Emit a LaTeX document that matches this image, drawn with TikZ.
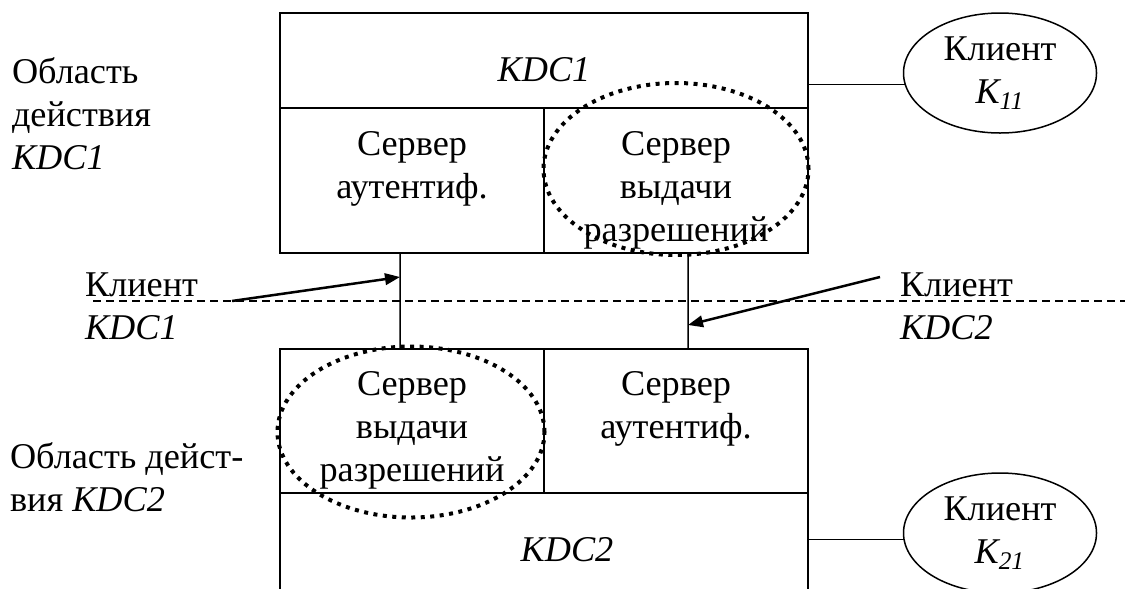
\documentclass[tikz,border=0pt]{standalone}
\usepackage{fontspec}
\setmainfont{Liberation Serif}
\usepackage{xcolor}
\usepackage{tikz}
\usetikzlibrary{shapes, arrows.meta, positioning}

\begin{document}
\begin{tikzpicture}[
		x=0.4pt, y=-0.4pt,
		every node/.style={font=\fontsize{14.5pt}{17.2pt}\selectfont, inner sep=0pt, outer sep=0pt},
		cell/.style={draw, line width=0.8pt},
		lbl/.style={align=left, anchor=north west},
		txt/.style={align=center},
		client/.style={draw, ellipse, line width=0.6pt, align=center, minimum width=77.2pt, minimum height=48pt},
		ring/.style={draw, ellipse, line width=1.6pt, dash pattern=on 1.6pt off 2.2pt},
		link/.style={line width=0.6pt},
		cut/.style={line width=0.5pt, dash pattern=on 3.2pt off 2pt},
		pointer/.style={line width=1pt, -{Triangle[length=6pt, width=4.6pt]}}
		]
		
		\useasboundingbox (0,0) rectangle (1125,588);
		\clip (0,0) rectangle (1125,588);
		
		% Realm KDC1
		\node[cell, minimum width=211.2pt, minimum height=38pt] (kdcone) at (544,60.5) {};
		\node[cell, anchor=north west, minimum width=105.6pt, minimum height=58pt] (authone) at (kdcone.south west) {};
		\node[cell, anchor=north east, minimum width=105.6pt, minimum height=58pt] (tgsone) at (kdcone.south east) {};
		
		\node[txt, below=17.6pt of kdcone.north] (kdconetext) {\textit{KDC1}};
		\node[txt, below=9.2pt of authone.north] (authonetext) {Сервер\\аутентиф.};
		\node[txt, below=9.2pt of tgsone.north] (tgsonetext) {Сервер\\выдачи\\разрешений};
		
		% Realm KDC2
		\node[cell, anchor=north west, minimum width=105.6pt, minimum height=57.6pt] (tgstwo) at (280,349) {};
		\node[cell, anchor=north west, minimum width=105.6pt, minimum height=57.6pt] (authtwo) at (tgstwo.north east) {};
		\node[cell, anchor=north west, minimum width=211.2pt, minimum height=41.6pt] (kdctwo) at (tgstwo.south west) {};
		
		\node[txt, below=9pt of tgstwo.north] (tgstwotext) {Сервер\\выдачи\\разрешений};
		\node[txt, below=9pt of authtwo.north] (authtwotext) {Сервер\\аутентиф.};
		\node[txt, below=17.6pt of kdctwo.north, xshift=9.2pt] (kdctwotext) {\textit{KDC2}};
		
		% Clients
		\node[client] (kone) at (1000,73) {Клиент\\\textit{K\textsubscript{11}}};
		\node[client] (ktwo) at (1000,533) {Клиент\\\textit{K\textsubscript{21}}};
		
		% Side labels
		\node[lbl] (realmone) at (12,58) {Область\\действия\\\textit{KDC1}};
		\node[lbl] (realmtwo) at (10,443) {Область дейст-\\вия \textit{KDC2}};
		\node[lbl] (clone) at (85,273) {Клиент\\\textit{KDC1}};
		\node[lbl] (cltwo) at (900,273) {Клиент\\\textit{KDC2}};
		
		% Dotted rings
		\node[ring, minimum width=106pt, minimum height=68.8pt] (ringone) at (676,169) {};
		\node[ring, minimum width=106.8pt, minimum height=68.4pt] (ringtwo) at (411,432) {};
		
		% Lines
		\draw[link] (kone.187) -- (kone.187 -| kdcone.east);
		\draw[link] (ktwo.184) -- (ktwo.184 -| kdctwo.east);
		
		\foreach \a/\b/\s in {authone/tgstwo/-4.8pt, tgsone/authtwo/4.8pt}
		\draw[link] ([xshift=\s]\a.south) -- ([xshift=\s]\b.north);
		
		\coordinate (cutl) at (93,301);
		\coordinate (cutr) at (1125,301);
		\draw[cut] (cutl) -- (cutr);
		
		% Arrows
		\coordinate (fromone) at (232,301);
		\coordinate (fromtwo) at (880,277);
		\draw[pointer] (fromone) -- ([xshift=-4.8pt, yshift=-9.6pt]authone.south);
		\draw[pointer] (fromtwo) -- ([xshift=4.8pt, yshift=-28.8pt]tgsone.south);
		
	\end{tikzpicture}
\end{document}
